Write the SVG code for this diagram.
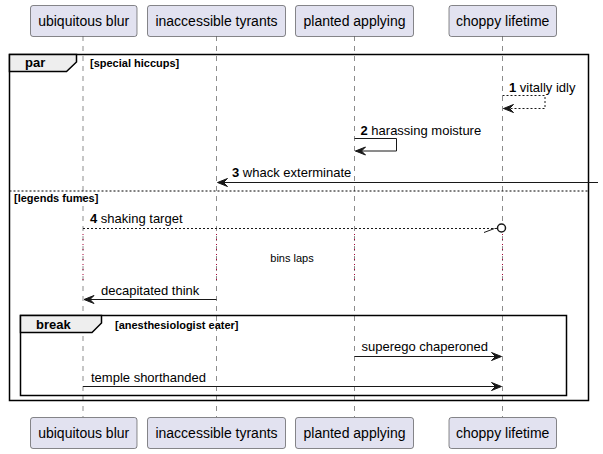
<svg xmlns="http://www.w3.org/2000/svg" width="603" height="454" viewBox="0 0 603 454">
<defs>
<style>
.pbox{fill:#E2E2F0;stroke:#181818;stroke-width:0.5}
.pname{font-family:"Liberation Sans",Arial,sans-serif;font-size:14px;fill:#000;text-anchor:middle}
.life{stroke:#181818;stroke-width:0.5;stroke-dasharray:5,5;fill:none}
.delay{stroke:#A80036;stroke-width:1;stroke-dasharray:1,4;fill:none}
.frame{fill:none;stroke:#000;stroke-width:1.5}
.tab{fill:#EEEEEE;stroke:#000;stroke-width:1.5}
.kw{font-family:"Liberation Sans",Arial,sans-serif;font-size:13px;font-weight:bold;fill:#000}
.cond{font-family:"Liberation Sans",Arial,sans-serif;font-size:11px;font-weight:bold;fill:#000}
.msg{font-family:"Liberation Sans",Arial,sans-serif;font-size:13px;fill:#000}
.num{font-weight:bold}
.small{font-family:"Liberation Sans",Arial,sans-serif;font-size:11px;fill:#000;text-anchor:middle}
.line{stroke:#181818;stroke-width:1;fill:none}
.dash{stroke:#181818;stroke-width:1;fill:none;stroke-dasharray:2,2}
.head{fill:#181818;stroke:#181818;stroke-width:1}
.sep{stroke:#000;stroke-width:1;stroke-dasharray:2,2;fill:none}
</style>
</defs>
<rect width="603" height="454" fill="#FFFFFF"/>
<g id="lifelines">
<line class="life" x1="83" y1="36" x2="83" y2="417"/>
<line class="life" x1="216.5" y1="36" x2="216.5" y2="417"/>
<line class="life" x1="354.5" y1="36" x2="354.5" y2="417"/>
<line class="life" x1="502.5" y1="36" x2="502.5" y2="417"/>
</g>
<g id="p-ubiquitous">
<rect class="pbox" x="30.5" y="5.5" width="106.5" height="31" rx="2.5"/>
<text class="pname" x="83.7" y="26">ubiquitous blur</text>
<rect class="pbox" x="30.5" y="417.5" width="106.5" height="31" rx="2.5"/>
<text class="pname" x="83.7" y="438">ubiquitous blur</text>
</g>
<g id="p-inaccessible">
<rect class="pbox" x="147.5" y="5.5" width="138" height="31" rx="2.5"/>
<text class="pname" x="216.5" y="26">inaccessible tyrants</text>
<rect class="pbox" x="147.5" y="417.5" width="138" height="31" rx="2.5"/>
<text class="pname" x="216.5" y="438">inaccessible tyrants</text>
</g>
<g id="p-planted">
<rect class="pbox" x="295.5" y="5.5" width="118" height="31" rx="2.5"/>
<text class="pname" x="354.5" y="26">planted applying</text>
<rect class="pbox" x="295.5" y="417.5" width="118" height="31" rx="2.5"/>
<text class="pname" x="354.5" y="438">planted applying</text>
</g>
<g id="p-choppy">
<rect class="pbox" x="449" y="5.5" width="107.5" height="31" rx="2.5"/>
<text class="pname" x="502.7" y="26">choppy lifetime</text>
<rect class="pbox" x="449" y="417.5" width="107.5" height="31" rx="2.5"/>
<text class="pname" x="502.7" y="438">choppy lifetime</text>
</g>
<g id="frame-par">
<rect class="frame" x="9.5" y="54.5" width="579" height="346"/>
<path class="tab" d="M9.5,54.5 H76.5 V62 L66.5,71.5 H9.5 Z"/>
<text class="kw" x="25" y="67">par</text>
<text class="cond" x="90" y="67">[special hiccups]</text>
<line class="sep" x1="9.5" y1="191" x2="588.5" y2="191"/>
<text class="cond" x="14" y="202">[legends fumes]</text>
</g>
<g id="frame-break">
<rect class="frame" x="20.5" y="315.5" width="546" height="80"/>
<path class="tab" d="M20.5,315.5 H101.5 V323 L92,332.5 H20.5 Z"/>
<text class="kw" x="36" y="329">break</text>
<text class="cond" x="115" y="329">[anesthesiologist eater]</text>
</g>
<g id="connectors">
<path class="dash" d="M502.5,95.5 H545 V108.5 H503.5"/>
<polygon class="head" points="503.5,108.5 513.5,104.5 509.5,108.5 513.5,112.5"/>
<text class="msg" x="509" y="92"><tspan class="num">1</tspan> vitally idly</text>
<path class="line" d="M354.5,138.5 H396.5 V151 H355.5"/>
<polygon class="head" points="355.5,151 365.5,147 361.5,151 365.5,155"/>
<text class="msg" x="360.5" y="135"><tspan class="num">2</tspan> harassing moisture</text>
<line class="line" x1="598" y1="182.5" x2="218" y2="182.5"/>
<polygon class="head" points="217.5,182.5 227.5,178.5 223.5,182.5 227.5,186.5"/>
<text class="msg" x="232" y="177"><tspan class="num">3</tspan> whack exterminate</text>
<line class="dash" x1="83" y1="228.5" x2="497" y2="228.5"/>
<line class="line" x1="484" y1="232.5" x2="494.5" y2="228.5"/>
<circle cx="501.5" cy="228" r="4" fill="#FFFFFF" stroke="#181818" stroke-width="1.5"/>
<text class="msg" x="90" y="223"><tspan class="num">4</tspan> shaking target</text>
<line class="delay" x1="83" y1="234" x2="83" y2="280"/>
<line class="delay" x1="216.5" y1="234" x2="216.5" y2="280"/>
<line class="delay" x1="354.5" y1="234" x2="354.5" y2="280"/>
<line class="delay" x1="502.5" y1="234" x2="502.5" y2="280"/>
<text class="small" x="292" y="262">bins laps</text>
<line class="line" x1="216.5" y1="299.5" x2="84" y2="299.5"/>
<polygon class="head" points="84,299.5 94,295.5 90,299.5 94,303.5"/>
<text class="msg" x="101" y="295">decapitated think</text>
<line class="line" x1="354.5" y1="356.5" x2="501" y2="356.5"/>
<polygon class="head" points="501.5,356.5 491.5,352.5 495.5,356.5 491.5,360.5"/>
<text class="msg" x="361.5" y="351">superego chaperoned</text>
<line class="line" x1="83" y1="386.5" x2="501" y2="386.5"/>
<polygon class="head" points="501.5,386.5 491.5,382.5 495.5,386.5 491.5,390.5"/>
<text class="msg" x="91" y="382">temple shorthanded</text>
</g>
</svg>
